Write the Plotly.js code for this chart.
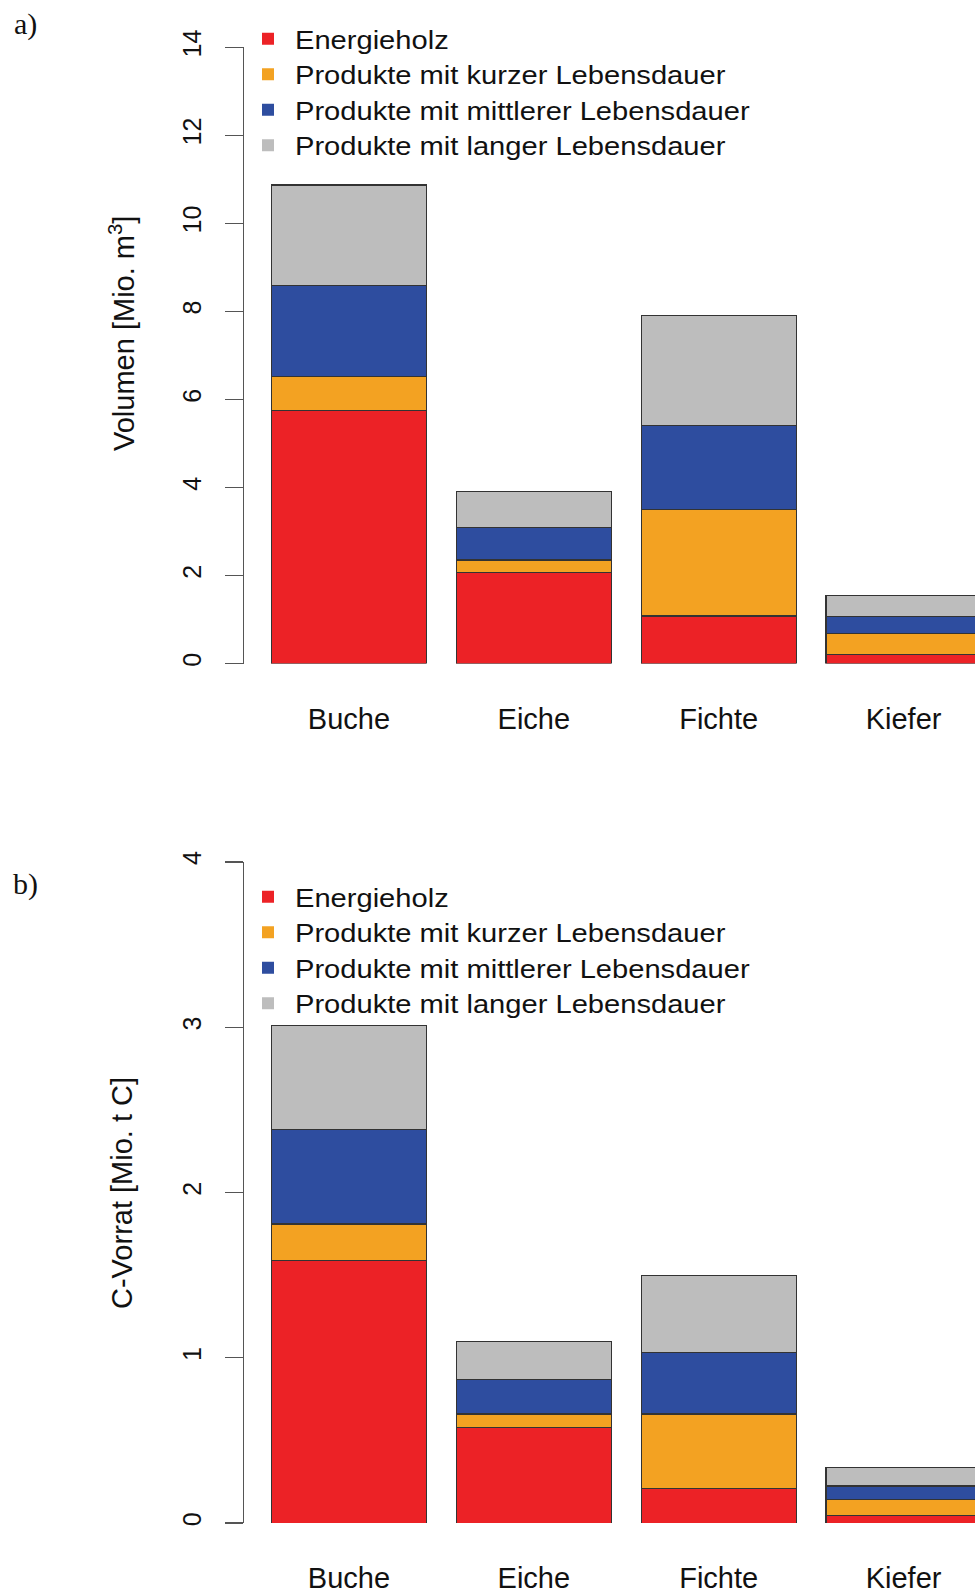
<!DOCTYPE html>
<html>
<head>
<meta charset="utf-8">
<script src="https://cdn.plot.ly/plotly-3.0.1.min.js"></script>
<style>
  html, body { margin: 0; padding: 0; background: #ffffff; }
  #chart { width: 975px; height: 1592px; }
  /* original legend keys have no outline */
  #chart .legendpoints path { stroke-width: 0 !important; }
  /* original legend lettering is set wider than its height suggests */
  #chart text.legendtext, #chart text.legend2text {
    transform-box: fill-box;
    transform-origin: 0 50%;
    transform: scaleX(1.165);
  }
  #chart .scrollbox { clip-path: none !important; }
</style>
</head>
<body>
<div id="chart"></div>
<script>
// ---- data ----
const categories = ['Buche', 'Eiche', 'Fichte', 'Kiefer'];
const seriesNames = [
  'Energieholz',
  'Produkte mit kurzer Lebensdauer',
  'Produkte mit mittlerer Lebensdauer',
  'Produkte mit langer Lebensdauer'
];
// a) Volumen [Mio. m³]
const volEnergieholz = [5.74, 2.07, 1.08, 0.20];
const volKurz        = [0.78, 0.28, 2.41, 0.49];
const volMittel      = [2.06, 0.74, 1.92, 0.38];
const volLang        = [2.29, 0.81, 2.50, 0.48];
// b) C-Vorrat [Mio. t C]
const cEnergieholz = [1.59, 0.58, 0.21, 0.045];
const cKurz        = [0.22, 0.08, 0.45, 0.10];
const cMittel      = [0.57, 0.21, 0.37, 0.08];
const cLang        = [0.63, 0.23, 0.47, 0.11];

const colors = ['#ec2226', '#f3a222', '#2e4d9f', '#bdbdbd'];

// ---- geometry helpers (pixels -> paper) ----
const W = 975, H = 1592, L = 244;
const px = x => (x - L) / (W - L);
const py = y => 1 - y / H;

const volSeries = [volEnergieholz, volKurz, volMittel, volLang];
const cSeries = [cEnergieholz, cKurz, cMittel, cLang];

const traces = [];
volSeries.forEach((vals, i) => {
  traces.push({
    type: 'bar', x: categories, y: vals, name: seriesNames[i],
    xaxis: 'x', yaxis: 'y', legend: 'legend',
    marker: { color: colors[i], line: { color: '#333333', width: 1.2 } },
    hoverinfo: 'skip'
  });
});
cSeries.forEach((vals, i) => {
  traces.push({
    type: 'bar', x: categories, y: vals, name: seriesNames[i],
    xaxis: 'x2', yaxis: 'y2', legend: 'legend2',
    marker: { color: colors[i], line: { color: '#333333', width: 1.2 } },
    hoverinfo: 'skip'
  });
});

const xRange = [-0.5676, 3.3865];
const fontFam = '"Liberation Sans", Arial, Helvetica, sans-serif';

function xAxis(anchor) {
  return {
    anchor: anchor, domain: [0, 1], range: xRange, type: 'category',
    showline: false, showgrid: false, zeroline: false, ticks: '',
    tickfont: { family: fontFam, size: 29, color: '#111' },
    ticklabelstandoff: 35, fixedrange: true
  };
}
function yAxis(anchor, domain, range, dtick) {
  return {
    anchor: anchor, domain: domain, range: range, dtick: dtick, tick0: 0,
    showline: true, linecolor: '#555', linewidth: 1.3,
    ticks: 'outside', ticklen: 18, tickcolor: '#555', tickwidth: 1.3,
    showgrid: false, zeroline: false, tickangle: -90,
    tickfont: { family: fontFam, size: 25, color: '#111' },
    ticklabelstandoff: 14, fixedrange: true
  };
}

const legendCommon = {
  traceorder: 'normal', bgcolor: 'rgba(0,0,0,0)', borderwidth: 0,
  font: { family: fontFam, size: 25, color: '#111' },
  itemwidth: 44, xref: 'paper', yref: 'paper',
  xanchor: 'left', yanchor: 'top', itemclick: false, itemdoubleclick: false
};

const layout = {
  width: W, height: H,
  margin: { l: L, r: 0, t: 0, b: 0, autoexpand: false },
  paper_bgcolor: '#ffffff', plot_bgcolor: '#ffffff',
  barmode: 'stack', bargap: 0.162,
  showlegend: true,
  xaxis: xAxis('y'),
  xaxis2: xAxis('y2'),
  yaxis: yAxis('x', [py(663.5), py(47.3)], [0, 14], 2),
  yaxis2: yAxis('x2', [py(1523.1), py(861.9)], [0, 4], 1),
  legend: Object.assign({}, legendCommon, { x: px(241), y: py(16) }),
  legend2: Object.assign({}, legendCommon, { x: px(241), y: py(874) }),
  annotations: [
    { text: 'Volumen [Mio. m<sup>3</sup>]', textangle: -90, showarrow: false,
      xref: 'paper', yref: 'paper', x: px(122), y: py(334),
      xanchor: 'center', yanchor: 'middle',
      font: { family: fontFam, size: 29, color: '#111' } },
    { text: 'C-Vorrat [Mio. t C]', textangle: -90, showarrow: false,
      xref: 'paper', yref: 'paper', x: px(122), y: py(1193),
      xanchor: 'center', yanchor: 'middle',
      font: { family: fontFam, size: 29, color: '#111' } },
    { text: 'a)', showarrow: false, xref: 'paper', yref: 'paper',
      x: px(25), y: py(24), xanchor: 'center', yanchor: 'middle',
      font: { family: '"Liberation Serif", "DejaVu Serif", serif', size: 30, color: '#111' } },
    { text: 'b)', showarrow: false, xref: 'paper', yref: 'paper',
      x: px(25), y: py(884), xanchor: 'center', yanchor: 'middle',
      font: { family: '"Liberation Serif", "DejaVu Serif", serif', size: 30, color: '#111' } }
  ]
};

Plotly.newPlot('chart', traces, layout, { staticPlot: true, displayModeBar: false });
</script>
</body>
</html>
